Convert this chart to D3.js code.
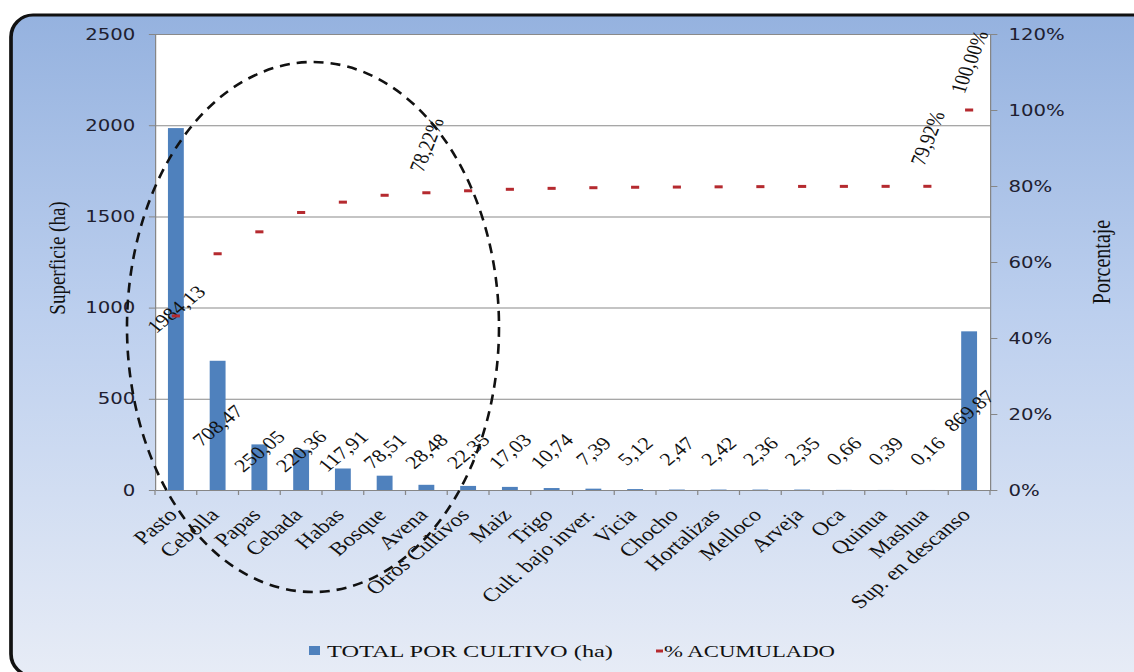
<!DOCTYPE html>
<html>
<head>
<meta charset="utf-8">
<script src="https://cdn.jsdelivr.net/npm/d3@7"></script>
<style>
  html, body { margin: 0; padding: 0; background: #ffffff; overflow: hidden; }
  svg { display: block; }
</style>
</head>
<body>
<svg id="chart" width="1134" height="672"></svg>
<script>
// Superficie por cultivo (ha) y porcentaje acumulado
const categories = ["Pasto", "Cebolla", "Papas", "Cebada", "Habas", "Bosque", "Avena",
  "Otros Cultivos", "Maiz", "Trigo", "Cult. bajo inver.", "Vicia", "Chocho", "Hortalizas",
  "Melloco", "Arveja", "Oca", "Quinua", "Mashua", "Sup. en descanso"];
const superficie = [1984.13, 708.47, 250.05, 220.36, 117.91, 78.51, 28.48, 22.35, 17.03,
  10.74, 7.39, 5.12, 2.47, 2.42, 2.36, 2.35, 0.66, 0.39, 0.16, 869.87];
const acumulado = [45.81, 62.17, 67.94, 73.03, 75.75, 77.56, 78.22, 78.74, 79.13, 79.38,
  79.55, 79.67, 79.72, 79.78, 79.83, 79.89, 79.90, 79.91, 79.92, 100.00];
const acumuladoConEtiqueta = ["Avena", "Mashua", "Sup. en descanso"];
const ticksSuperficie = [0, 500, 1000, 1500, 2000, 2500];
const ticksPorcentaje = [0, 20, 40, 60, 80, 100, 120];
const leyenda = ["TOTAL POR CULTIVO (ha)", "% ACUMULADO"];
const tituloIzq = "Superficie (ha)";
const tituloDer = "Porcentaje";

const W = 1134, H = 672;
const SX = 1.23;               // horizontal stretch of the whole drawing
const SANS = "'DejaVu Sans', Verdana, sans-serif";
const SERIF = "'Liberation Serif', 'Times New Roman', serif";

const svg = d3.select("#chart");
const defs = svg.append("defs");
const grad = defs.append("linearGradient").attr("id", "fondo")
  .attr("x1", 0).attr("y1", 0).attr("x2", 0).attr("y2", 1);
grad.append("stop").attr("offset", "0%").attr("stop-color", "#95b2df");
grad.append("stop").attr("offset", "45%").attr("stop-color", "#bccfee");
grad.append("stop").attr("offset", "100%").attr("stop-color", "#e7ecf6");

const g = svg.append("g").attr("transform", `scale(${SX},1)`);

// outer frame (right and bottom edges run past the page)
g.append("rect")
  .attr("x", 11 / SX).attr("y", 15)
  .attr("width", (1170 - 11) / SX).attr("height", 661)
  .attr("rx", 22 / SX).attr("ry", 22)
  .attr("fill", "url(#fondo)")
  .attr("stroke", "#111").attr("stroke-width", 3);

const pLeft = 155 / SX, pRight = 990 / SX, pTop = 34, pBottom = 490;

const x = d3.scaleBand().domain(categories).range([pLeft, pRight]).padding(0);
const yL = d3.scaleLinear().domain([0, 2500]).range([pBottom, pTop]);
const yR = d3.scaleLinear().domain([0, 120]).range([pBottom, pTop]);
const bw = x.bandwidth();
const barW = bw * 0.38;

const es = d3.formatLocale({ decimal: ",", thousands: ".", grouping: [3], currency: ["", ""] });
const fmt2 = es.format(".2f");

// plot area
g.append("rect").attr("x", pLeft).attr("y", pTop)
  .attr("width", pRight - pLeft).attr("height", pBottom - pTop).attr("fill", "#ffffff");

// gridlines
g.append("g").attr("transform", `translate(${pLeft},0)`)
  .call(d3.axisLeft(yL).tickValues(ticksSuperficie.filter(v => v > 0))
    .tickSize(-(pRight - pLeft)).tickFormat(""))
  .call(s => s.select(".domain").remove())
  .selectAll("line").attr("stroke", "#8a8a8a").attr("stroke-width", 1);

// left axis
const axL = g.append("g").attr("transform", `translate(${pLeft},0)`)
  .call(d3.axisLeft(yL).tickValues(ticksSuperficie).tickFormat(d3.format("d"))
    .tickSize(5).tickSizeOuter(0).tickPadding(11));
axL.select(".domain").attr("stroke", "#868686");
axL.selectAll(".tick line").attr("stroke", "#868686");
axL.selectAll("text").attr("font-family", SANS).attr("font-size", 16).attr("fill", "#202030");

// right axis
const axR = g.append("g").attr("transform", `translate(${pRight},0)`)
  .call(d3.axisRight(yR).tickValues(ticksPorcentaje).tickSize(6).tickSizeOuter(0)
    .tickPadding(9).tickFormat(d => d + "%"));
axR.select(".domain").attr("stroke", "#868686");
axR.selectAll(".tick line").attr("stroke", "#868686");
axR.selectAll("text").attr("font-family", SANS).attr("font-size", 16).attr("fill", "#202030");

// bottom axis with rotated category names
const axB = g.append("g").attr("transform", `translate(0,${pBottom})`)
  .call(d3.axisBottom(x).tickSize(0).tickSizeOuter(0).tickPadding(0));
axB.select(".domain").attr("stroke", "#868686");
axB.selectAll("text")
  .attr("y", null).attr("dy", null).attr("x", 0)
  .attr("text-anchor", "end")
  .attr("transform", "translate(2,26) rotate(-46)")
  .attr("font-family", SERIF).attr("font-size", 19).attr("fill", "#111");

// category boundary ticks
g.append("g").selectAll("line")
  .data(categories.map(c => x(c)).concat([pRight]))
  .join("line")
  .attr("x1", d => d).attr("x2", d => d)
  .attr("y1", pBottom).attr("y2", pBottom + 5)
  .attr("stroke", "#868686");

// bars
g.append("g").selectAll("rect")
  .data(categories.map((c, i) => ({ c, v: superficie[i] })))
  .join("rect")
  .attr("x", d => x(d.c) + (bw - barW) / 2)
  .attr("y", d => yL(d.v))
  .attr("width", barW)
  .attr("height", d => yL(0) - yL(d.v))
  .attr("fill", "#4f81bd");

// bar value labels
g.append("g").selectAll("text")
  .data(categories.map((c, i) => ({ c, v: superficie[i] })))
  .join("text")
  .each(function (d) {
    const cx = x(d.c) + bw / 2;
    const cy = Math.min((yL(d.v) + yL(0)) / 2, 451);
    d3.select(this)
      .attr("x", cx).attr("y", cy)
      .attr("transform", `rotate(-45,${cx},${cy})`);
  })
  .attr("text-anchor", "middle")
  .attr("dominant-baseline", "central")
  .attr("font-family", SERIF).attr("font-size", 18).attr("fill", "#111")
  .text(d => fmt2(d.v));

// cumulative percentage markers
g.append("g").selectAll("rect")
  .data(categories.map((c, i) => ({ c, p: acumulado[i] })))
  .join("rect")
  .attr("x", d => x(d.c) + bw / 2 - 3.3)
  .attr("y", d => yR(d.p) - 1.5)
  .attr("width", 6.6).attr("height", 3)
  .attr("fill", "#b52a2f");

// cumulative percentage labels
g.append("g").selectAll("text")
  .data(categories.map((c, i) => ({ c, p: acumulado[i] })).filter(d => acumuladoConEtiqueta.includes(d.c)))
  .join("text")
  .each(function (d) {
    const cx = x(d.c) + bw / 2;
    const cy = yR(d.p) - 48;
    d3.select(this)
      .attr("x", cx).attr("y", cy)
      .attr("transform", `rotate(-72,${cx},${cy})`);
  })
  .attr("text-anchor", "middle")
  .attr("dominant-baseline", "central")
  .attr("font-family", SERIF).attr("font-size", 18).attr("fill", "#111")
  .text(d => fmt2(d.p) + "%");

// axis titles
g.append("text")
  .attr("transform", `translate(${57 / SX},258) rotate(-90)`)
  .attr("text-anchor", "middle").attr("dominant-baseline", "central")
  .attr("font-family", SERIF).attr("font-size", 19).attr("fill", "#111")
  .text(tituloIzq);
g.append("text")
  .attr("transform", `translate(${1102 / SX},262) rotate(-90)`)
  .attr("text-anchor", "middle").attr("dominant-baseline", "central")
  .attr("font-family", SERIF).attr("font-size", 20).attr("fill", "#111")
  .text(tituloDer);

// legend
const lg = g.append("g");
lg.append("rect").attr("x", 309 / SX).attr("y", 646).attr("width", 11 / SX).attr("height", 9)
  .attr("fill", "#4f81bd");
lg.append("text").attr("x", 327 / SX).attr("y", 657)
  .attr("font-family", SERIF).attr("font-size", 17).attr("fill", "#111")
  .attr("textLength", (613 - 327) / SX).attr("lengthAdjust", "spacingAndGlyphs")
  .text(leyenda[0]);
lg.append("rect").attr("x", 656 / SX).attr("y", 649.5).attr("width", 7 / SX).attr("height", 3)
  .attr("fill", "#b52a2f");
lg.append("text").attr("x", 664 / SX).attr("y", 657)
  .attr("font-family", SERIF).attr("font-size", 17).attr("fill", "#111")
  .attr("textLength", (835 - 664) / SX).attr("lengthAdjust", "spacingAndGlyphs")
  .text(leyenda[1]);

// dashed ellipse around the main crops
svg.append("ellipse")
  .attr("cx", 313).attr("cy", 327).attr("rx", 186).attr("ry", 265)
  .attr("fill", "none").attr("stroke", "#111")
  .attr("stroke-width", 2.6).attr("stroke-dasharray", "10 7");
</script>
</body>
</html>
